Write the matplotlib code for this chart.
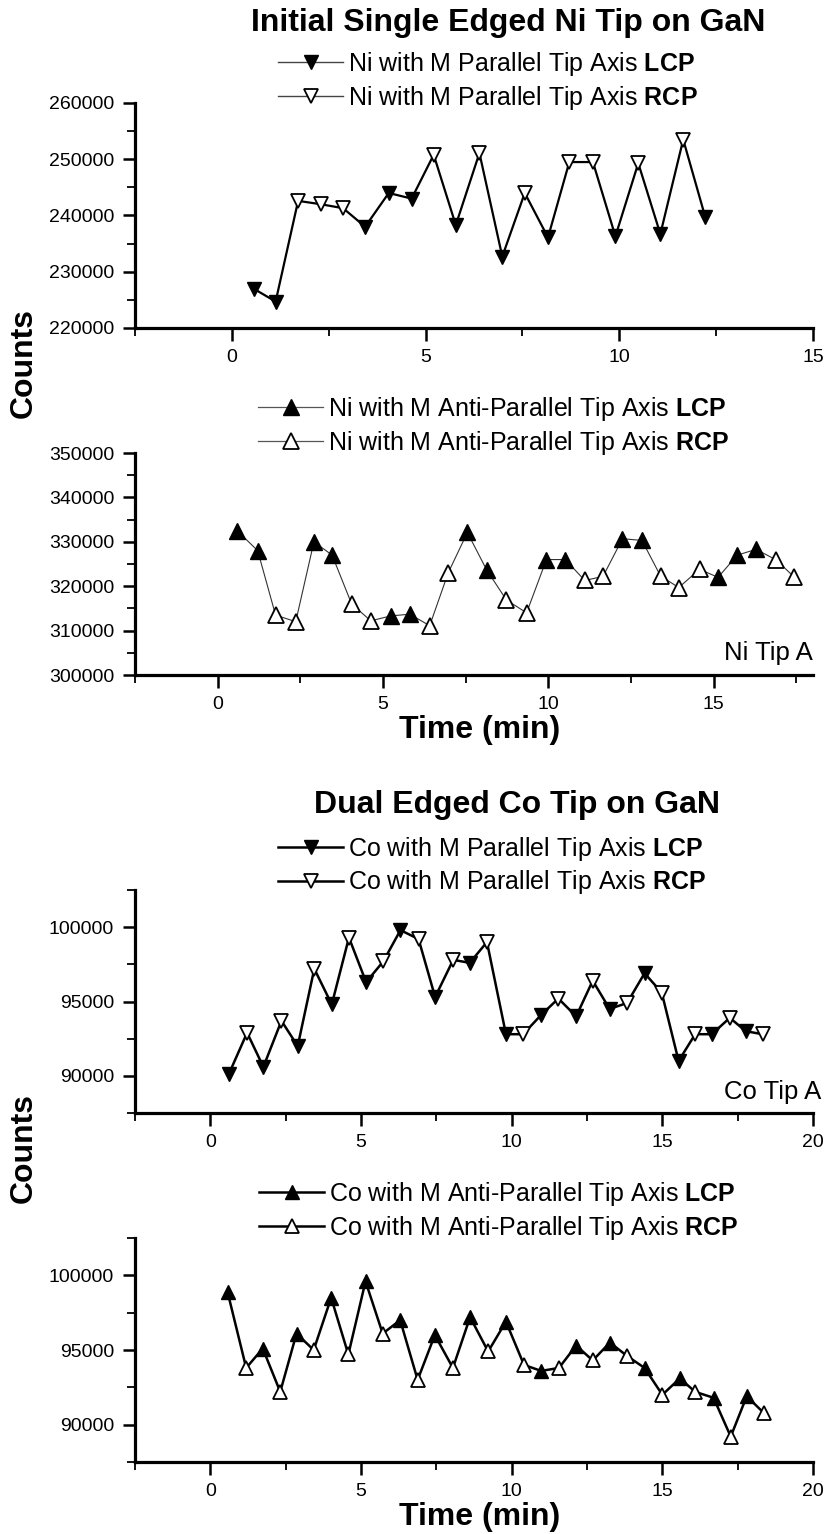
import matplotlib
matplotlib.use("Agg")
import matplotlib.pyplot as plt
from matplotlib.lines import Line2D
from matplotlib.ticker import MultipleLocator, ScalarFormatter

plt.rcParams['font.family'] = ['Liberation Sans', 'DejaVu Sans']
plt.rcParams['mathtext.fontset'] = 'custom'
plt.rcParams['mathtext.rm'] = 'Liberation Sans'
plt.rcParams['mathtext.bf'] = 'Liberation Sans:bold'

# Ni tip, M parallel to the tip axis (L = LCP, R = RCP)
ni_par_time = [0.56, 1.13, 1.71, 2.30, 2.87, 3.44, 4.05, 4.64, 5.21, 5.78, 6.39,
               6.98, 7.56, 8.16, 8.71, 9.32, 9.90, 10.49, 11.06, 11.65, 12.22]
ni_par_counts = [227000, 224700, 242600, 242000, 241300, 238000, 244000, 243000,
                 250800, 238300, 251100, 232700, 244000, 236100, 249500, 249500,
                 236300, 249300, 236700, 253500, 239700]
ni_par_pol = "LLRRRLLLRLRLRLRRLRLRL"

# Ni tip, M anti-parallel to the tip axis
ni_anti_time = [0.59, 1.21, 1.75, 2.36, 2.91, 3.46, 4.05, 4.63, 5.23, 5.81, 6.41,
                6.97, 7.55, 8.13, 8.73, 9.34, 9.94, 10.51, 11.10, 11.65, 12.24,
                12.83, 13.39, 13.94, 14.57, 15.13, 15.71, 16.28, 16.89, 17.44]
ni_anti_counts = [332500, 328000, 313500, 312000, 330000, 327000, 316000, 312200,
                  313300, 313700, 311100, 323000, 332100, 323700, 316900, 314000,
                  326000, 326000, 321300, 322200, 330700, 330300, 322300, 319700,
                  323800, 322000, 327000, 328300, 325900, 322000]
ni_anti_pol = "LLRRLLRRLLRRLLRRLLRRLLRRRLLLRR"

# Co tip, M parallel to the tip axis
co_par_time = [0.61, 1.22, 1.76, 2.36, 2.90, 3.45, 4.03, 4.60, 5.17, 5.74, 6.31,
               6.91, 7.46, 8.06, 8.61, 9.18, 9.81, 10.38, 10.98, 11.55, 12.14,
               12.69, 13.25, 13.83, 14.41, 14.98, 15.54, 16.09, 16.64, 17.24,
               17.77, 18.33]
co_par_counts = [90100, 92900, 90600, 93700, 92000, 97200, 94800, 99300, 96300,
                 97700, 99800, 99200, 95300, 97800, 97600, 99000, 92800, 92800,
                 94100, 95200, 94000, 96400, 94500, 94900, 96900, 95600, 91000,
                 92800, 92800, 93900, 93000, 92800]
co_par_pol = "LRLRLRLRLRLRLRLRLRLRLRLRLRLRLRLR"

# Co tip, M anti-parallel to the tip axis
co_anti_time = [0.57, 1.19, 1.74, 2.32, 2.86, 3.43, 4.01, 4.58, 5.15, 5.72, 6.30,
                6.88, 7.45, 8.05, 8.62, 9.22, 9.81, 10.41, 10.98, 11.57, 12.14,
                12.69, 13.26, 13.83, 14.41, 15.00, 15.58, 16.09, 16.70, 17.27,
                17.80, 18.36]
co_anti_counts = [98900, 93800, 95100, 92200, 96100, 95000, 98500, 94700, 99600,
                  96100, 97000, 93000, 96000, 93800, 97200, 94900, 96900, 94000,
                  93600, 93800, 95300, 94300, 95500, 94600, 93800, 92000, 93100,
                  92200, 91800, 89200, 91900, 90800]
co_anti_pol = "LRLRLRLRLRLRLRLRLRLRLRLRLRLRLRLR"

W, H = 827, 1534
fig = plt.figure(figsize=(W / 100, H / 100), dpi=100)


def px_axes(top, bottom, left=135, right=813):
    return fig.add_axes([left / W, 1 - bottom / H, (right - left) / W, (bottom - top) / H])


def draw(ax, t, counts, pol, marker, lw, ms, color):
    ax.plot(t, counts, '-', color=color, lw=lw, zorder=2)
    lt = [x for x, p in zip(t, pol) if p == 'L']
    lc = [y for y, p in zip(counts, pol) if p == 'L']
    rt = [x for x, p in zip(t, pol) if p == 'R']
    rc = [y for y, p in zip(counts, pol) if p == 'R']
    ax.plot(lt, lc, ls='none', marker=marker, ms=ms, mfc='black', mec='black', mew=1.0, zorder=3)
    ax.plot(rt, rc, ls='none', marker=marker, ms=ms, mfc='white', mec='black', mew=1.3, zorder=3)


def style(ax, xmax, ymin, ymax, ymajor):
    ax.set_xlim(-2.5, xmax)
    ax.set_ylim(ymin, ymax)
    ax.xaxis.set_major_locator(MultipleLocator(5))
    ax.xaxis.set_minor_locator(MultipleLocator(2.5))
    ax.yaxis.set_major_locator(MultipleLocator(ymajor))
    ax.yaxis.set_minor_locator(MultipleLocator(ymajor / 2))
    fmt = ScalarFormatter(useOffset=False)
    fmt.set_scientific(False)
    ax.yaxis.set_major_formatter(fmt)
    for s in ['top', 'right']:
        ax.spines[s].set_visible(False)
    for s in ['left', 'bottom']:
        ax.spines[s].set_linewidth(2.3)
    ax.tick_params(which='major', length=9, width=1.8, labelsize=14)
    ax.tick_params(axis='x', which='major', pad=6)
    ax.tick_params(axis='y', which='major', pad=6)
    ax.tick_params(which='minor', length=6, width=1.3)
    ax.set_facecolor('none')


def legend(ax, labels, marker, lw, ms, color, x0, ytop):
    handles = [
        Line2D([], [], color=color, lw=lw, marker=marker, ms=ms, mfc='black', mec='black'),
        Line2D([], [], color=color, lw=lw, marker=marker, ms=ms, mfc='white', mec='black', mew=1.3),
    ]
    ax.legend(handles, labels, loc='upper left', bbox_to_anchor=(x0 / W, 1 - ytop / H),
              bbox_transform=fig.transFigure, frameon=False, fontsize=18,
              handlelength=2.6, handletextpad=0.2, labelspacing=0.22,
              borderpad=0, borderaxespad=0)


ax1 = px_axes(103, 328)
draw(ax1, ni_par_time, ni_par_counts, ni_par_pol, 'v', 1.6, 10, 'black')
style(ax1, 15, 220000, 260000, 10000)
legend(ax1, [r"Ni with M Parallel Tip Axis $\mathbf{LCP}$",
             r"Ni with M Parallel Tip Axis $\mathbf{RCP}$"], 'v', 1.0, 10, '#444444', 278, 50)

ax2 = px_axes(453, 675)
draw(ax2, ni_anti_time, ni_anti_counts, ni_anti_pol, '^', 0.8, 12, '#333333')
style(ax2, 18, 300000, 350000, 10000)
legend(ax2, [r"Ni with M Anti-Parallel Tip Axis $\mathbf{LCP}$",
             r"Ni with M Anti-Parallel Tip Axis $\mathbf{RCP}$"], '^', 0.9, 11, '#555555', 258, 395)
ax2.text(1.0, 0.1, "Ni Tip A", transform=ax2.transAxes, ha='right', va='center', fontsize=18.5)

ax3 = px_axes(890, 1113)
draw(ax3, co_par_time, co_par_counts, co_par_pol, 'v', 1.8, 10, 'black')
style(ax3, 20, 87500, 102500, 5000)
legend(ax3, [r"Co with M Parallel Tip Axis $\mathbf{LCP}$",
             r"Co with M Parallel Tip Axis $\mathbf{RCP}$"], 'v', 1.8, 10, 'black', 278, 835)
ax3.text(1.012, 0.095, "Co Tip A", transform=ax3.transAxes, ha='right', va='center', fontsize=18.5)

ax4 = px_axes(1238, 1462)
draw(ax4, co_anti_time, co_anti_counts, co_anti_pol, '^', 1.8, 10.5, 'black')
style(ax4, 20, 87500, 102500, 5000)
legend(ax4, [r"Co with M Anti-Parallel Tip Axis $\mathbf{LCP}$",
             r"Co with M Anti-Parallel Tip Axis $\mathbf{RCP}$"], '^', 1.8, 10, 'black', 259, 1180)

fig.text(508 / W, 1 - 31 / H, "Initial Single Edged Ni Tip on GaN", ha='center',
         va='baseline', fontsize=23, fontweight='bold')
fig.text(517 / W, 1 - 813 / H, "Dual Edged Co Tip on GaN", ha='center',
         va='baseline', fontsize=23, fontweight='bold')

for yc in (363, 1148):
    fig.text(24 / W, 1 - yc / H, "Counts", rotation=90, ha='center', va='center',
             fontsize=23, fontweight='bold')
for yc in (730, 1517):
    fig.text(480 / W, 1 - yc / H, "Time (min)", ha='center', va='center',
             fontsize=23, fontweight='bold')

fig.savefig("out.png", dpi=100, facecolor='white')
